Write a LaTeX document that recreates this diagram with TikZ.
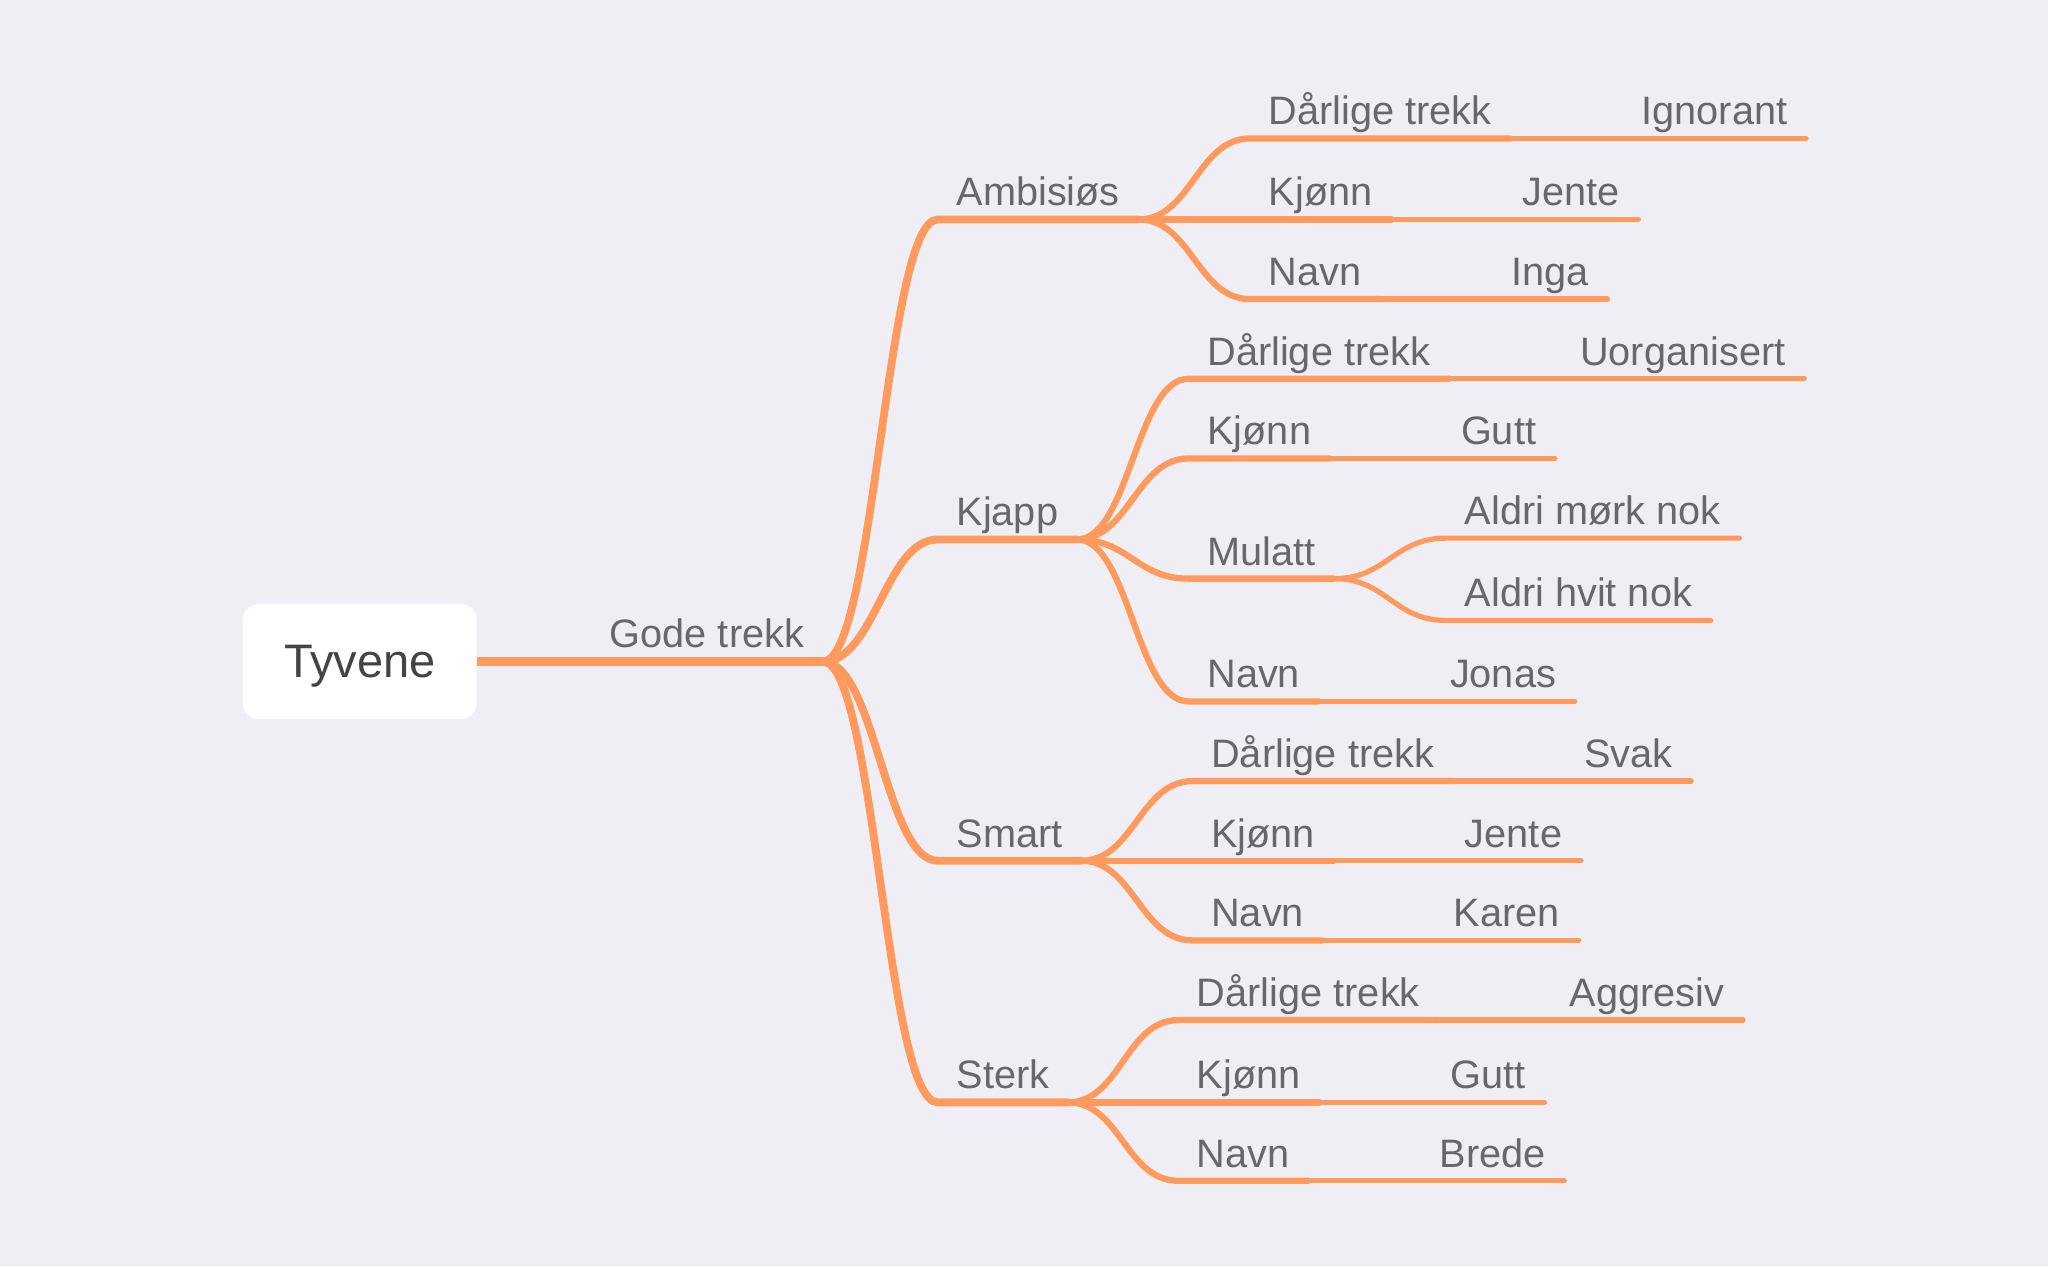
\documentclass[tikz,border=0pt]{standalone}
\usepackage{fontspec}
\setmainfont{Liberation Sans}
\usetikzlibrary{positioning}
\definecolor{bgcol}{HTML}{EFEEF4}
\definecolor{branch}{HTML}{FF9A5E}
\definecolor{labelgray}{HTML}{68686C}
\definecolor{rootgray}{HTML}{444444}
\tikzset{
    topic/.style={inner xsep=7pt, inner ysep=5pt, text depth=0pt,
    	text height=11pt, text=labelgray, font=\fontsize{15.2}{18}\selectfont},
    root/.style={fill=white, rounded corners=6pt, minimum width=89.5pt,
    	minimum height=44pt, text depth=0pt, text=rootgray,
    	font=\fontsize{18}{22}\selectfont},
    lvl1/.style={draw=branch, line width=3.6pt},
    lvl2/.style={draw=branch, line width=3pt, line cap=round},
    lvl3/.style={draw=branch, line width=2.4pt, line cap=round},
    lvl4/.style={draw=branch, line width=2pt, line cap=round},
    curvy/.style={to path={.. controls +(40,0) and +(-40,0) .. (\tikztotarget)}}
}

\begin{document}
\begin{tikzpicture}[x=0.5pt, y=-0.5pt]
	\fill[bgcol] (0,0) rectangle (1568,969.3);
	\useasboundingbox (0,0) rectangle (1568,969.3);
	% root and first branch
	\node[topic, anchor=south east] (gode) at (630,506.5) {Gode trekk};
	\draw[lvl1] (365,506.5) -- (gode.south east);
	\node[root] (tyv) at (275.5,506.5) {Tyvene};
	% second level
	\node[topic, anchor=south west] (amb) at (718,168) {Ambisiøs};
	\node[topic, anchor=south west] (kja) at (718,413) {Kjapp};
	\node[topic, anchor=south west] (sma) at (718,659) {Smart};
	\node[topic, anchor=south west] (ste) at (718,844) {Sterk};
	\foreach \n in {amb, kja, sma, ste}
		\draw[lvl2] (gode.south east) to[curvy] (\n.south west) -- (\n.south east);
	% Ambisiøs
	\node[topic, anchor=south west] (ambdt) at (957,106) {Dårlige trekk};
	\node[topic, anchor=south west] (ambkj) at (957,168) {Kjønn};
	\node[topic, anchor=south west] (ambna) at (957,229) {Navn};
	\foreach \n in {ambdt, ambkj, ambna}
		\draw[lvl3] (amb.south east) to[curvy] (\n.south west) -- (\n.south east);
	% Kjapp
	\node[topic, anchor=south west] (kjadt) at (910,290) {Dårlige trekk};
	\node[topic, anchor=south west] (kjakj) at (910,351) {Kjønn};
	\node[topic, anchor=south west] (kjamu) at (910,443) {Mulatt};
	\node[topic, anchor=south west] (kjana) at (910,537) {Navn};
	\foreach \n in {kjadt, kjakj, kjamu, kjana}
		\draw[lvl3] (kja.south east) to[curvy] (\n.south west) -- (\n.south east);
	\node[topic, anchor=south west] (mork) at (1107,412) {Aldri mørk nok};
	\node[topic, anchor=south west] (hvit) at (1107,475) {Aldri hvit nok};
	\foreach \n in {mork, hvit}
		\draw[lvl4] (kjamu.south east) to[curvy] (\n.south west) -- (\n.south east);
	% Smart
	\node[topic, anchor=south west] (smadt) at (913,598) {Dårlige trekk};
	\node[topic, anchor=south west] (smakj) at (913,659) {Kjønn};
	\node[topic, anchor=south west] (smana) at (913,720) {Navn};
	\foreach \n in {smadt, smakj, smana}
		\draw[lvl3] (sma.south east) to[curvy] (\n.south west) -- (\n.south east);
	% Sterk
	\node[topic, anchor=south west] (stedt) at (902,781) {Dårlige trekk};
	\node[topic, anchor=south west] (stekj) at (902,844) {Kjønn};
	\node[topic, anchor=south west] (stena) at (902,904) {Navn};
	\foreach \n in {stedt, stekj, stena}
		\draw[lvl3] (ste.south east) to[curvy] (\n.south west) -- (\n.south east);
	% leaves
	\node[topic, right=43pt of ambdt] (ignorant) {Ignorant};
	\node[topic, right=43pt of ambkj] (jente1) {Jente};
	\node[topic, right=43pt of ambna] (inga) {Inga};
	\node[topic, right=43pt of kjadt] (uorg) {Uorganisert};
	\node[topic, right=43pt of kjakj] (gutt1) {Gutt};
	\node[topic, right=43pt of kjana] (jonas) {Jonas};
	\node[topic, right=43pt of smadt] (svak) {Svak};
	\node[topic, right=43pt of smakj] (jente2) {Jente};
	\node[topic, right=43pt of smana] (karen) {Karen};
	\node[topic, right=43pt of stedt] (aggr) {Aggresiv};
	\node[topic, right=43pt of stekj] (gutt2) {Gutt};
	\node[topic, right=43pt of stena] (brede) {Brede};
	\foreach \a/\b in {ambdt/ignorant, ambkj/jente1, ambna/inga, kjadt/uorg,
		kjakj/gutt1, kjana/jonas, smadt/svak, smakj/jente2, smana/karen,
		stedt/aggr, stekj/gutt2, stena/brede}
		\draw[lvl4] (\a.south east) -- (\b.south east);
\end{tikzpicture}
\end{document}
